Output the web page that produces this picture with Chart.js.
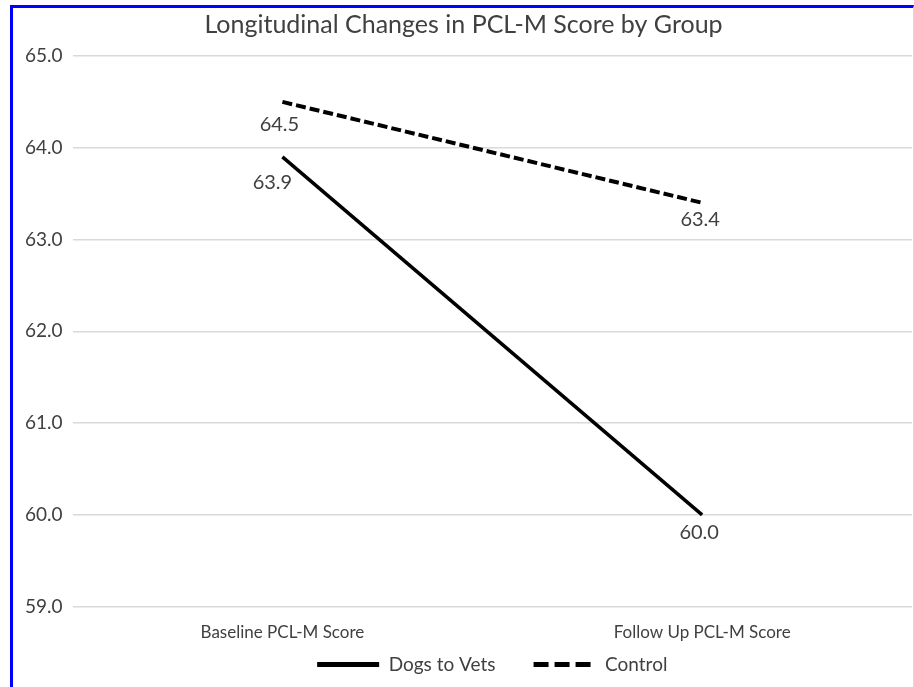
<!DOCTYPE html>
<html>
<head>
<meta charset="utf-8">
<script src="https://cdn.jsdelivr.net/npm/chart.js@4.4.1/dist/chart.umd.min.js"></script>
<style>
  html, body { margin: 0; padding: 0; background: #fff; }
  #frame {
    position: absolute; left: 10px; top: 5px;
    width: 900px; height: 682px;
    border-top: 3px solid #0000ff;
    border-left: 3px solid #0000ff;
    border-right: 1px solid #d8d8f0;
  }
  #wrap { position: relative; width: 900px; height: 682px; }
</style>
</head>
<body>
<div id="frame"><div id="wrap"><canvas id="chart"></canvas></div></div>
<script>
// data
var categories = ["Baseline PCL-M Score", "Follow Up PCL-M Score"];
var seriesNames = ["Dogs to Vets", "Control"];
var dogsToVets = [63.9, 60.0];
var control = [64.5, 63.4];
var yTicks = [59, 60, 61, 62, 63, 64, 65];

var textColor = "#404040";
var fontFamily = "Lato, 'Open Sans', sans-serif";

// value labels next to each point (offsets in px from the point)
var labelOffsets = [
    [[-10, 26], [-3, 18]],
    [[-3, 23], [-2, 17]]
];

var valueLabels = {
    id: "valueLabels",
    afterDatasetsDraw: function(chart) {
        var ctx = chart.ctx;
        ctx.save();
        ctx.font = "20px " + fontFamily;
        ctx.fillStyle = textColor;
        ctx.textAlign = "center";
        ctx.textBaseline = "middle";
        chart.data.datasets.forEach(function(ds, i) {
            var meta = chart.getDatasetMeta(i);
            meta.data.forEach(function(pt, j) {
                var off = labelOffsets[i][j];
                ctx.fillText(ds.data[j].toFixed(1), pt.x + off[0], pt.y + off[1]);
            });
        });
        ctx.restore();
    }
};

var ctx = document.getElementById("chart").getContext("2d");
new Chart(ctx, {
    type: "line",
    data: {
        labels: categories,
        datasets: [{
            label: seriesNames[0],
            data: dogsToVets,
            borderColor: "#000",
            backgroundColor: "#000",
            borderWidth: 3.5,
            pointRadius: 0,
            pointStyle: "line",
            tension: 0
        }, {
            label: seriesNames[1],
            data: control,
            borderColor: "#000",
            backgroundColor: "#000",
            borderWidth: 4,
            borderDash: [10, 4],
            pointRadius: 0,
            pointStyle: "line",
            tension: 0
        }]
    },
    options: {
        responsive: true,
        maintainAspectRatio: false,
        animation: false,
        layout: { padding: { left: 2, right: 1, top: 0, bottom: 6 } },
        plugins: {
            title: {
                display: true,
                text: "Longitudinal Changes in PCL-M Score by Group",
                color: textColor,
                font: { family: fontFamily, size: 25, weight: "normal" },
                padding: { top: 2, bottom: 16 }
            },
            legend: {
                position: "bottom",
                fullSize: false,
                labels: {
                    usePointStyle: true,
                    pointStyleWidth: 62,
                    boxWidth: 62,
                    color: textColor,
                    font: { family: fontFamily, size: 19 },
                    padding: 4,
                    generateLabels: function(chart) {
                        var items = Chart.defaults.plugins.legend.labels.generateLabels(chart);
                        items.forEach(function(it) {
                            var ds = chart.data.datasets[it.datasetIndex];
                            it.lineDash = ds.borderDash ? [15, 6] : [];
                            it.lineWidth = 5;
                            // extra gap after the first entry
                            if (it.datasetIndex === 0) it.text = it.text + "       ";
                        });
                        return items;
                    }
                }
            },
            tooltip: { enabled: false }
        },
        scales: {
            x: {
                offset: true,
                grid: { display: false },
                border: { display: false },
                ticks: {
                    color: textColor,
                    font: { family: fontFamily, size: 17 },
                    padding: 8
                }
            },
            y: {
                min: yTicks[0],
                max: yTicks[yTicks.length - 1],
                afterBuildTicks: function(axis) {
                    axis.ticks = yTicks.map(function(v) { return { value: v }; });
                },
                grid: { color: "#d9d9d9", lineWidth: 1.5, drawTicks: false },
                border: { display: false },
                ticks: {
                    color: textColor,
                    font: { family: fontFamily, size: 19 },
                    padding: 10,
                    callback: function(v) { return Number(v).toFixed(1); }
                }
            }
        }
    },
    plugins: [valueLabels]
});
</script>
</body>
</html>
